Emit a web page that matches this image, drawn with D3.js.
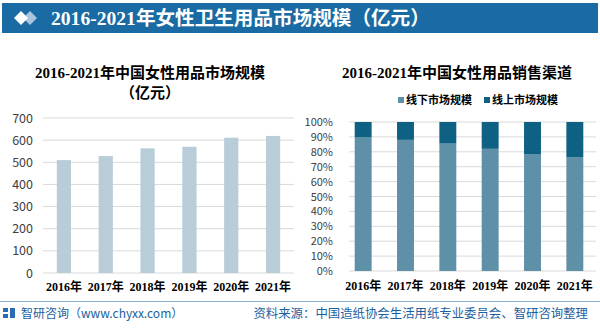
<!DOCTYPE html>
<html>
<head>
<meta charset="utf-8">
<script src="https://cdn.jsdelivr.net/npm/d3@7"></script>
<style>
  body { margin: 0; background: #fff; }
  svg { display: block; }
</style>
</head>
<body>
<svg id="chart" width="600" height="334"></svg>
<script>
// data
const years = ['2016年', '2017年', '2018年', '2019年', '2020年', '2021年'];
const marketSize = [510, 528, 563, 570, 611, 619]; // 亿元
const offlineShare = [89.6, 88.0, 85.5, 82.0, 78.5, 76.2]; // %
const onlineShare = offlineShare.map(d => 100 - d);
const sizeTicks = [0, 100, 200, 300, 400, 500, 600, 700];
const pctTicks = [0, 10, 20, 30, 40, 50, 60, 70, 80, 90, 100];
const seriesNames = ['线下市场规模', '线上市场规模'];

const svg = d3.select('#chart');
const serif = '"Liberation Serif", "DejaVu Serif", "Noto Sans CJK SC", serif';
const sans = '"Noto Sans CJK SC", "Noto Sans", sans-serif';
const gridColor = '#d9d9d9';
const lightBar = '#b8cdd8';
const offColor = '#5e90a8';
const onColor = '#0f6183';

// header band
svg.append('rect')
  .attr('x', 2).attr('y', 3).attr('width', 596).attr('height', 30)
  .attr('fill', '#1a6ba3');
// diamonds icon
svg.append('path')
  .attr('d', 'M23,18 l7,-7 l7,7 l-7,7 z')
  .attr('fill', '#a9c6de');
svg.append('path')
  .attr('d', 'M14,18 l7,-7 l7,7 l-7,7 z')
  .attr('fill', '#fff');
svg.append('text')
  .attr('x', 51).attr('y', 25)
  .attr('font-family', serif).attr('font-size', 19.6).attr('font-weight', 'bold')
  .attr('fill', '#fff')
  .text('2016-2021年女性卫生用品市场规模（亿元）');

// left chart: market size
const x1 = d3.scaleBand().domain(years).range([43, 294]).paddingInner(0.66).paddingOuter(0.33);
const y1 = d3.scaleLinear().domain([0, 700]).range([273, 118]);

const left = svg.append('g');
left.append('text')
  .attr('x', 150).attr('y', 78).attr('text-anchor', 'middle')
  .attr('font-family', serif).attr('font-size', 15).attr('font-weight', 'bold')
  .text('2016-2021年中国女性用品市场规模');
left.append('text')
  .attr('x', 150).attr('y', 98).attr('text-anchor', 'middle')
  .attr('font-family', serif).attr('font-size', 15).attr('font-weight', 'bold')
  .text('（亿元）');

left.append('g')
  .selectAll('line')
  .data(sizeTicks)
  .join('line')
    .attr('x1', 43).attr('x2', 294)
    .attr('y1', d => y1(d)).attr('y2', d => y1(d))
    .attr('stroke', gridColor).attr('stroke-width', 1);

const yAxis1 = left.append('g')
  .attr('transform', 'translate(33,0)')
  .call(d3.axisLeft(y1).tickValues(sizeTicks).tickSize(0).tickPadding(0));
yAxis1.select('.domain').remove();
yAxis1.selectAll('text')
  .attr('font-family', sans).attr('font-size', 12.5).attr('fill', '#404040');

left.append('g')
  .selectAll('rect')
  .data(marketSize)
  .join('rect')
    .attr('x', (d, i) => x1(years[i]))
    .attr('width', x1.bandwidth())
    .attr('y', d => y1(d))
    .attr('height', d => y1(0) - y1(d))
    .attr('fill', lightBar);

const xAxis1 = left.append('g')
  .attr('transform', 'translate(0,273)')
  .call(d3.axisBottom(x1).tickSize(0).tickPadding(9));
xAxis1.select('.domain').remove();
xAxis1.selectAll('text')
  .attr('font-family', serif).attr('font-size', 12).attr('font-weight', 'bold').attr('fill', '#000');

// right chart: sales channel
const x2 = d3.scaleBand().domain(years).range([342, 596]).paddingInner(0.6).paddingOuter(0.3);
const y2 = d3.scaleLinear().domain([0, 100]).range([271, 122]);

const right = svg.append('g');
right.append('text')
  .attr('x', 457).attr('y', 78).attr('text-anchor', 'middle')
  .attr('font-family', serif).attr('font-size', 15).attr('font-weight', 'bold')
  .text('2016-2021年中国女性用品销售渠道');

right.append('g')
  .selectAll('line')
  .data(pctTicks)
  .join('line')
    .attr('x1', 349).attr('x2', 596)
    .attr('y1', d => y2(d)).attr('y2', d => y2(d))
    .attr('stroke', gridColor).attr('stroke-width', 1);

const yAxis2 = right.append('g')
  .attr('transform', 'translate(333,0)')
  .call(d3.axisLeft(y2).tickValues(pctTicks).tickSize(0).tickPadding(0).tickFormat(d => d + '%'));
yAxis2.select('.domain').remove();
yAxis2.selectAll('text')
  .attr('font-family', sans).attr('font-size', 11).attr('fill', '#404040');

const stacked = d3.stack().keys([0, 1])(years.map((y, i) => [offlineShare[i], onlineShare[i]]));
const colors = [offColor, onColor];

right.append('g')
  .selectAll('g')
  .data(stacked)
  .join('g')
    .attr('fill', (d, i) => colors[i])
  .selectAll('rect')
  .data(d => d)
  .join('rect')
    .attr('x', (d, i) => x2(years[i]))
    .attr('width', x2.bandwidth())
    .attr('y', d => y2(d[1]))
    .attr('height', d => y2(d[0]) - y2(d[1]));

const xAxis2 = right.append('g')
  .attr('transform', 'translate(0,271)')
  .call(d3.axisBottom(x2).tickSize(0).tickPadding(10));
xAxis2.select('.domain').remove();
xAxis2.selectAll('text')
  .attr('font-family', serif).attr('font-size', 12).attr('font-weight', 'bold').attr('fill', '#000');

// legend
const legend = right.append('g')
  .selectAll('g')
  .data(seriesNames)
  .join('g')
    .attr('transform', (d, i) => 'translate(' + (398 + i * 86) + ',104)');
legend.append('rect')
  .attr('x', 0).attr('y', -7).attr('width', 6).attr('height', 6)
  .attr('fill', (d, i) => colors[i]);
legend.append('text')
  .attr('x', 8).attr('y', 0)
  .attr('font-family', sans).attr('font-size', 11).attr('font-weight', 'bold')
  .text(d => d);

// footer
svg.append('line')
  .attr('x1', 0).attr('x2', 600).attr('y1', 301.5).attr('y2', 301.5)
  .attr('stroke', '#8fb3d3').attr('stroke-width', 1);
svg.append('path')
  .attr('d', 'M3,308 h5 v4 h-5 z M3,314 h5 v4 h-5 z M10,308 h5 v10 h-5 z')
  .attr('fill', '#2a6db5');
svg.append('text')
  .attr('x', 21).attr('y', 318)
  .attr('font-family', sans).attr('font-size', 12).attr('fill', '#1a5fa0')
  .text('智研咨询（www.chyxx.com）');
svg.append('text')
  .attr('x', 588).attr('y', 318).attr('text-anchor', 'end')
  .attr('font-family', sans).attr('font-size', 12.4).attr('fill', '#1a5fa0')
  .text('资料来源：中国造纸协会生活用纸专业委员会、智研咨询整理');
</script>
</body>
</html>
